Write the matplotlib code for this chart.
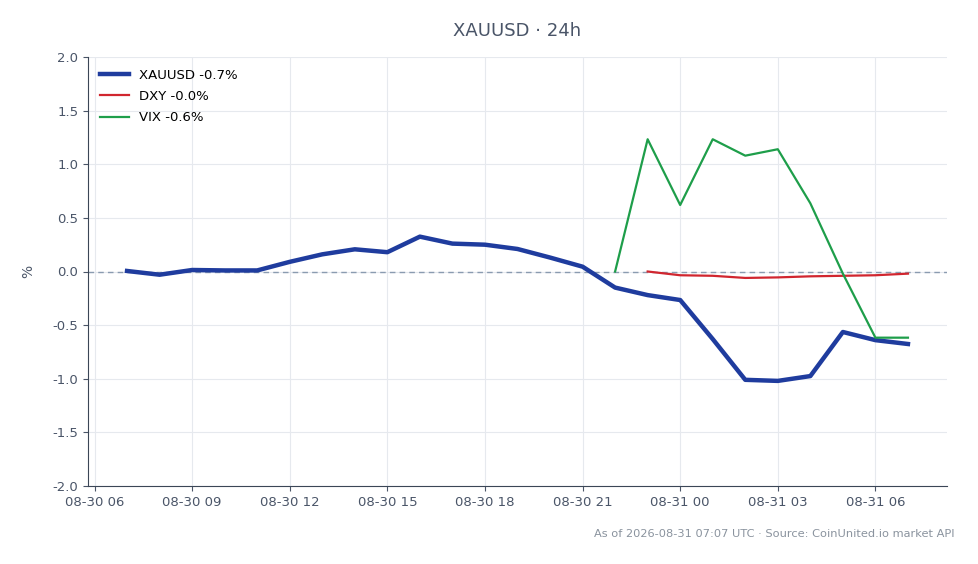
import matplotlib
matplotlib.use("Agg")
import matplotlib.pyplot as plt
import matplotlib.dates as mdates
import pandas as pd

times = pd.date_range("2026-08-30 07:00", "2026-08-31 07:00", freq="h")
xau = [0.005, -0.03, 0.014, 0.01, 0.01, 0.09, 0.16, 0.207, 0.18, 0.325, 0.26, 0.25,
       0.21, 0.13, 0.045, -0.15, -0.22, -0.266, -0.63, -1.01, -1.02, -0.975, -0.564,
       -0.64, -0.676]
dxy_times = times[16:]
dxy = [0.0, -0.035, -0.04, -0.06, -0.055, -0.045, -0.04, -0.035, -0.02]
vix_times = times[15:]
vix = [0.0, 1.233, 0.62, 1.233, 1.08, 1.14, 0.636, -0.02, -0.617, -0.617]

labels = ["XAUUSD -0.7%", "DXY -0.0%", "VIX -0.6%"]
title = "XAUUSD · 24h"
footer = "As of 2026-08-31 07:07 UTC · Source: CoinUnited.io market API"

text_col = "#4a5568"
fig = plt.figure(figsize=(9.79, 5.64), dpi=100)
ax = fig.add_axes([88/979, 1-486/564, (947-88)/979, (486-57)/564])
ax.plot(times, xau, color="#1f3c9e", lw=3.2, label=labels[0], zorder=3)
ax.plot(dxy_times, dxy, color="#d1262f", lw=1.6, label=labels[1], zorder=3)
ax.plot(vix_times, vix, color="#1e9e4a", lw=1.6, label=labels[2], zorder=3)
ax.axhline(0, color="#8a9bb0", lw=1, ls=(0, (4, 3)), zorder=2)
ax.set_ylim(-2, 2)
ax.set_yticks([-2, -1.5, -1, -0.5, 0, 0.5, 1, 1.5, 2])
ax.yaxis.set_major_formatter(matplotlib.ticker.FormatStrFormatter("%.1f"))
ax.xaxis.set_major_locator(mdates.HourLocator(byhour=[0, 3, 6, 9, 12, 15, 18, 21]))
ax.xaxis.set_major_formatter(mdates.DateFormatter("%m-%d %H"))
ax.grid(True, color="#e6e9ee", lw=0.8, zorder=0)
ax.set_axisbelow(True)
for s in ["top", "right"]:
    ax.spines[s].set_visible(False)
for s in ["left", "bottom"]:
    ax.spines[s].set_color("#3b4656")
ax.tick_params(colors=text_col, labelsize=9.5)
ax.set_ylabel("%", color=text_col, fontsize=10, labelpad=12)
leg = ax.legend(loc="upper left", frameon=False, fontsize=9.5, handlelength=2.2,
                labelspacing=0.62, borderaxespad=0.5)
fig.text(517/979, 1-31/564, title, ha="center", va="center", fontsize=13, color=text_col)
fig.text(955/979, 1-534/564, footer, ha="right", va="center", fontsize=8.2, color="#8a939e")
fig.savefig("out.png", dpi=100)
